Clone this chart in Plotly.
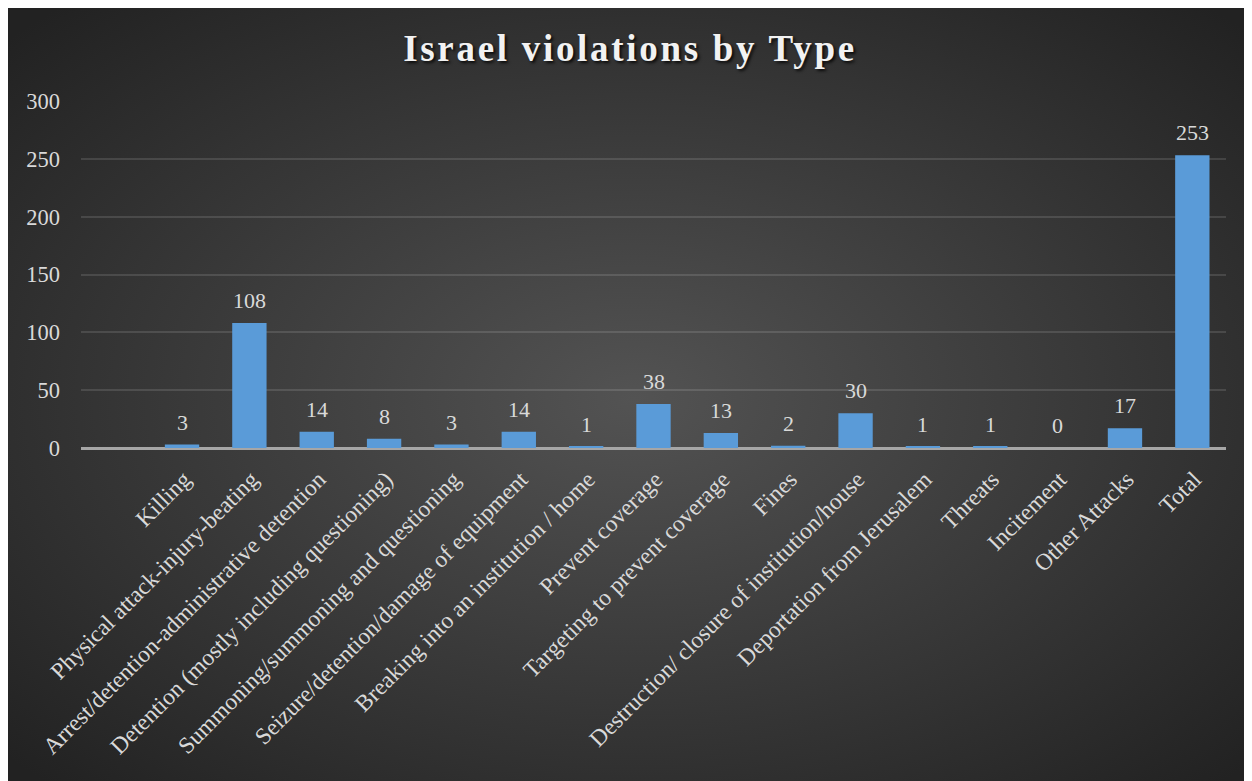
import base64
import plotly.graph_objects as go

categories = [
    "Killing",
    "Physical attack-injury-beating",
    "Arrest/detention-administrative detention",
    "Detention (mostly including questioning)",
    "Summoning/summoning and questioning",
    "Seizure/detention/damage of equipment",
    "Breaking into an institution / home",
    "Prevent coverage",
    "Targeting to prevent coverage",
    "Fines",
    "Destruction/ closure of institution/house",
    "Deportation from Jerusalem",
    "Threats",
    "Incitement",
    "Other Attacks",
    "Total",
]
values = [3, 108, 14, 8, 3, 14, 1, 38, 13, 2, 30, 1, 1, 0, 17, 253]
y_ticks = [0, 50, 100, 150, 200, 250, 300]

W, H = 1252, 781
ML, MR, MT, MB = 73, 34, 93, 341
PW, PH = W - ML - MR, H - MT - MB

# radial gradient background (SVG data URI)
svg = (
    '<svg xmlns="http://www.w3.org/2000/svg" width="1252" height="781" '
    'preserveAspectRatio="none" viewBox="0 0 1252 781">'
    '<defs><radialGradient id="g" cx="50%" cy="50%" r="68%">'
    '<stop offset="0" stop-color="#535353"/>'
    '<stop offset="1" stop-color="#222222"/>'
    '</radialGradient></defs>'
    '<rect width="1252" height="781" fill="url(#g)"/></svg>'
)
src = "data:image/svg+xml;base64," + base64.b64encode(svg.encode()).decode()

x_pos = list(range(1, len(categories) + 1))

fig = go.Figure(
    go.Bar(
        x=x_pos,
        y=values,
        marker=dict(color="#5a9bd8", line=dict(width=0)),
        cliponaxis=False,
        hoverinfo="x+y",
    )
)

for xv, v in zip(x_pos, values):
    fig.add_annotation(
        x=xv, y=v, text=str(v), showarrow=False,
        yanchor="bottom", yshift=8,
        font=dict(family="Liberation Serif", size=22, color="#d9d9d9"),
    )

fig.add_layout_image(
    dict(
        source=src,
        xref="paper", yref="paper",
        x=-ML / PW, y=1 + MT / PH,
        sizex=W / PW, sizey=H / PH,
        xanchor="left", yanchor="top",
        sizing="stretch", layer="below",
    )
)

fig.update_layout(
    width=W, height=H,
    margin=dict(l=ML, r=MR, t=MT, b=MB),
    paper_bgcolor="#333333",
    plot_bgcolor="rgba(0,0,0,0)",
    bargap=0.49,
    showlegend=False,
    title=dict(
        text="<b>Israel violations by Type</b>",
        x=(630 - 8) / W, xanchor="center",
        y=1 - 40 / H, yanchor="middle",
        font=dict(family="Liberation Serif", size=37, color="#f2f2f2",
                  shadow="2px 2px 3px rgba(0,0,0,0.8)"),
    ),
    font=dict(family="Liberation Serif", color="#d9d9d9"),
    xaxis=dict(
        range=[-0.5, len(categories) + 0.5],
        tickmode="array", tickvals=x_pos, ticktext=categories,
        tickangle=-45,
        tickfont=dict(family="Liberation Serif", size=23.5, color="#d9d9d9"),
        showgrid=False, zeroline=False, showline=False, ticks="",
        ticklabelstandoff=12, ticklabelshift=2,
    ),
    yaxis=dict(
        range=[0, 300],
        tickmode="array", tickvals=y_ticks,
        tickfont=dict(family="Liberation Serif", size=22.5, color="#d9d9d9"),
        showgrid=True, gridcolor="rgba(255,255,255,0.12)", gridwidth=1.5,
        zeroline=True, zerolinecolor="#a6a6a6", zerolinewidth=2.5,
        showline=False, ticks="", ticklabelstandoff=20,
    ),
)

post = (
    "var t=document.querySelector('.gtitle');"
    "if(t){t.style.letterSpacing='2.7px';}"
)
fig.write_html("out.html", post_script=post)
